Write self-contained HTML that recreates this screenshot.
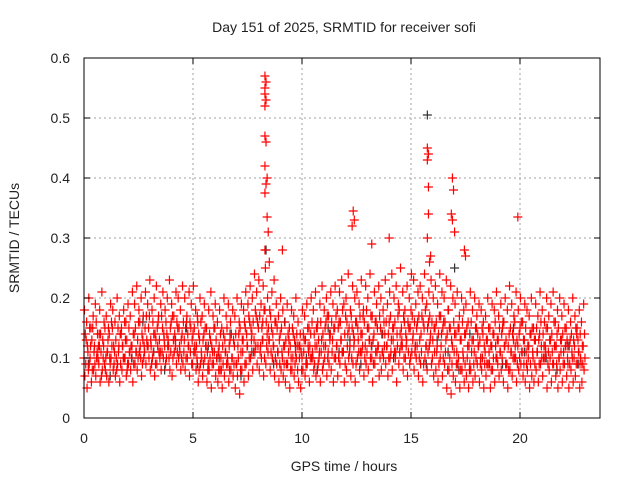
<!DOCTYPE html>
<html><head><meta charset="utf-8"><style>
body{margin:0;background:#fff}
svg{display:block;font-family:"Liberation Sans",sans-serif}
</style></head><body>
<svg id="chart" width="640" height="480" viewBox="0 0 640 480"></svg>
<script>
const xTicks=[0,5,10,15,20];
const yTicks=[0,0.1,0.2,0.3,0.4,0.5,0.6];
const yTickLabels=["0","0.1","0.2","0.3","0.4","0.5","0.6"];
const seriesA=[10,13,8,12,15,9,11,14,7,12,10,13,9,15,11,8,12,14,10,13,9,11,12,
14,11,16,10,13,15,12,17,9,14,13,16,11,15,12,14,10,16,13,12,15,11,14,
13,16,12,15,14,11,17,13,10,14,12,9,13,11,15,10,12,8,14,11,9,13,10,
12,9,14,11,13,15,12,16,14,13,17,15,12,16,18,14,13,15,12,16,11,14,10,
12,9,13,10,14,11,8,12,10,13,9,11,14,10,12,15,11,13,12,16,11,14,13,
15,12,16,13,11,17,14,12,15,13,16,11,14,17,12,15,13,10,14,16,12,15,11,
14,12,16,13,15,11,17,14,12,16,13,15,18,14,12,16,13,17,15,12,16,14,13,
15,12,17,14,16,13,18,15,12,14,11,15,13,10,14,12,9,13,11,15,12,10,14,
11,13,9,12,14,10,13,11,15,12,9,14,11,13,10,12,15,11,13,9,12,14,10,
13,11,14,10,12,15,11,13,9,12,14,10,13,11,12,9,13,10,12,14,11,9,12];
const seriesB=[18,16,20,15,17,19,14,18,21,16,17,15,19,18,16,20,17,15,18,16,19,17,21,
19,22,18,20,17,21,19,23,18,20,22,17,19,21,18,20,23,19,17,21,20,18,22,
20,17,21,19,22,18,16,20,17,19,15,18,21,17,19,16,18,15,20,17,19,16,18,
17,20,16,19,18,21,19,22,20,24,21,23,19,22,25,20,18,21,23,19,17,20,18,
16,19,15,18,17,20,16,14,18,17,19,15,20,18,21,16,19,22,18,20,17,21,19,
22,18,21,23,19,20,24,18,22,20,21,19,23,18,22,20,24,17,21,19,22,20,18,
23,19,21,24,20,22,19,25,21,18,22,20,24,23,19,21,22,20,24,19,21,23,20,
22,19,24,21,20,23,18,22,20,19,21,17,20,18,19,16,21,18,20,17,19,18,16,
17,20,15,19,18,21,17,19,16,20,18,22,19,17,21,18,20,16,19,18,17,20,15,
19,17,21,18,16,20,17,19,21,16,18,20,17,19,15,18,16,20,17,15,18,16,19];
const seriesC=[7,5,9,6,8,7,10,6,8,9,7,6,10,8,7,9,6,8,10,7,9,8,6,
9,8,11,7,10,9,12,8,10,7,9,11,8,10,9,12,8,7,11,9,10,8,9,
8,10,7,9,11,8,6,9,7,10,6,8,5,9,7,6,8,5,7,9,6,8,7,
5,7,4,8,6,9,7,10,8,11,9,8,10,7,9,11,8,10,7,9,6,8,7,
6,9,5,8,7,10,6,5,8,7,9,6,10,8,7,9,6,8,10,7,9,8,6,
10,7,9,11,6,8,10,7,9,6,10,8,11,7,9,8,10,6,9,11,7,8,10,
9,7,10,8,11,6,9,12,8,10,7,9,11,8,10,7,9,6,10,8,12,9,7,
8,6,10,7,9,5,8,4,7,6,9,5,8,6,7,5,8,6,7,9,6,8,5,
7,9,5,8,6,10,7,8,6,9,5,8,7,10,6,8,9,7,6,8,5,7,6,
8,6,9,7,10,5,8,6,9,7,5,8,6,9,7,5,8,6,7,9,5,6,8];
const seriesD=[14,12,15,13,11,16,12,14,13,15,11,14,16,12,13,15,14,12,16,13,15,12,14,
15,13,16,14,12,17,15,13,16,14,15,13,17,14,16,13,15,17,14,16,15,13,16,
15,14,16,13,15,12,14,16,13,15,11,14,12,15,13,11,14,12,13,15,12,14,13,
14,12,15,13,16,14,17,15,16,18,16,17,15,18,16,15,17,14,16,15,13,15,12,
13,14,12,15,13,14,12,11,14,13,15,12,16,14,15,13,16,14,15,17,14,16,15,
17,15,16,18,14,16,15,17,14,16,15,17,14,16,18,15,17,13,16,15,17,14,16,
16,14,17,15,16,14,18,15,17,14,16,15,17,16,15,17,14,16,18,15,17,16,15,
16,14,17,15,16,14,15,13,16,14,15,13,16,14,15,12,16,13,15,14,13,15,12,
13,15,12,14,16,13,15,14,16,13,12,15,14,16,13,14,16,13,15,12,14,15,13,
15,13,16,14,12,15,13,14,16,12,15,13,14,15,13,12,14,13,15,13,14,12,14];
const seriesE=[9,11,10,8,12,10,9,11,10,8,11,10,12,9,10,11,9,12,10,8,11,10,9,
11,10,12,9,11,13,10,12,11,9,12,10,11,13,10,12,11,10,13,11,12,10,11,
10,12,11,9,12,10,8,11,9,12,8,10,9,11,10,8,10,9,11,10,8,10,9,
9,10,8,11,9,12,10,13,11,12,12,11,13,10,12,13,11,12,10,11,9,11,9,
9,11,8,10,9,12,10,8,11,9,12,10,11,9,12,10,11,9,12,10,13,11,10,
12,10,13,11,9,12,11,10,12,9,13,11,12,10,11,13,12,9,11,12,10,11,12,
12,10,11,13,10,12,11,13,10,12,11,10,13,11,12,10,11,9,12,11,13,10,11,
11,9,12,10,11,8,10,9,11,9,10,8,11,9,10,8,11,9,10,12,9,10,9,
9,11,8,10,12,9,11,10,12,9,8,11,10,12,9,10,11,9,11,10,9,11,9,
11,9,12,10,11,9,10,11,12,9,10,11,9,12,10,9,11,10,9,11,10,9,10];
const outlierX=[8.3,8.35,8.3,8.3,8.35,8.3,8.3,8.35,8.3,8.4,8.35,8.3,8.4,8.45,8.3,8.5,15.75,15.8,15.75,15.8,15.8,15.75,15.9,15.85,16.9,16.95,16.85,16.9,17.0,17.45,17.5,12.35,12.4,12.3,19.9,9.1,14.0,13.2];
const outlierY=[0.57,0.56,0.55,0.54,0.53,0.52,0.47,0.46,0.42,0.40,0.39,0.375,0.335,0.31,0.28,0.26,0.45,0.44,0.43,0.385,0.34,0.30,0.27,0.26,0.40,0.38,0.34,0.33,0.31,0.28,0.27,0.345,0.33,0.32,0.335,0.28,0.30,0.29];
const blackY=[9,12,7,14,10,16,11,8,13,15,9,12,10,14,7,11,13,9,16,12,10,8,15,11,13,9,12,14,10,16,12,9,13,11,8,14,10,12,9,15,11,13,10,8,12,9];
const blackOutX=[15.75,8.35,17.0];
const blackOutY=[0.505,0.28,0.25];

const NS="http://www.w3.org/2000/svg";
const svg=document.getElementById('chart');
const X=h=>84+h*21.8;
const Y=v=>418-v*600;
function mk(tag,at,parent){const e=document.createElementNS(NS,tag);for(const k in at)e.setAttribute(k,at[k]);(parent||svg).appendChild(e);return e;}

const grid=mk('g',{});


xTicks.forEach(t=>{if(t>0){mk('line',{x1:X(t),x2:X(t),y1:58,y2:418,stroke:'#a0a0a0','stroke-dasharray':'2,3','stroke-width':1},grid);}});
yTicks.forEach(t=>{if(t>0&&t<0.6){mk('line',{x1:84,x2:600,y1:Y(t),y2:Y(t),stroke:'#a0a0a0','stroke-dasharray':'2,3','stroke-width':1},grid);}});

const pts=mk('g',{});


function plus(x,y,c){mk('path',{d:`M${x-4.5},${y}h9M${x},${y-4.5}v9`,stroke:c,'stroke-width':1.2,fill:'none'},pts);}
blackY.forEach((v,i)=>plus(X(i*0.5+0.2),Y(v/100),'#333'));
blackOutX.forEach((x,i)=>plus(X(x),Y(blackOutY[i]),'#333'));
[seriesA,seriesB,seriesC,seriesD,seriesE].forEach((s,k)=>s.forEach((v,i)=>plus(X(i*0.1+k*0.02),Y(v/100),'#ff0000')));
outlierX.forEach((x,i)=>plus(X(x),Y(outlierY[i]),'#ff0000'));

const axes=mk('g',{});


mk('rect',{x:84,y:58,width:516,height:360,fill:'none',stroke:'#000','stroke-width':1},axes);
xTicks.forEach(t=>{mk('line',{x1:X(t),x2:X(t),y1:418,y2:412,stroke:'#000'},axes);mk('line',{x1:X(t),x2:X(t),y1:58,y2:64,stroke:'#000'},axes);
 const tx=mk('text',{x:X(t),y:443,'text-anchor':'middle','font-size':14,fill:'#222'},axes);tx.textContent=t;
 
 });
yTicks.forEach((t,i)=>{mk('line',{x1:84,x2:90,y1:Y(t),y2:Y(t),stroke:'#000'},axes);mk('line',{x1:600,x2:594,y1:Y(t),y2:Y(t),stroke:'#000'},axes);
 const tx=mk('text',{x:70,y:Y(t)+5,'text-anchor':'end','font-size':14,fill:'#222'},axes);tx.textContent=yTickLabels[i];
 
 });
</script>
<svg style="position:absolute;left:0;top:0" width="640" height="480">
<text x="344" y="32" text-anchor="middle" font-size="14" fill="#222" font-family="Liberation Sans, sans-serif">Day 151 of 2025, SRMTID for receiver sofi</text>
<text x="344" y="471" text-anchor="middle" font-size="14" fill="#222" font-family="Liberation Sans, sans-serif">GPS time / hours</text>
<text transform="translate(19,238) rotate(-90)" text-anchor="middle" font-size="14" fill="#222" font-family="Liberation Sans, sans-serif">SRMTID / TECUs</text>
</svg>
</body></html>
